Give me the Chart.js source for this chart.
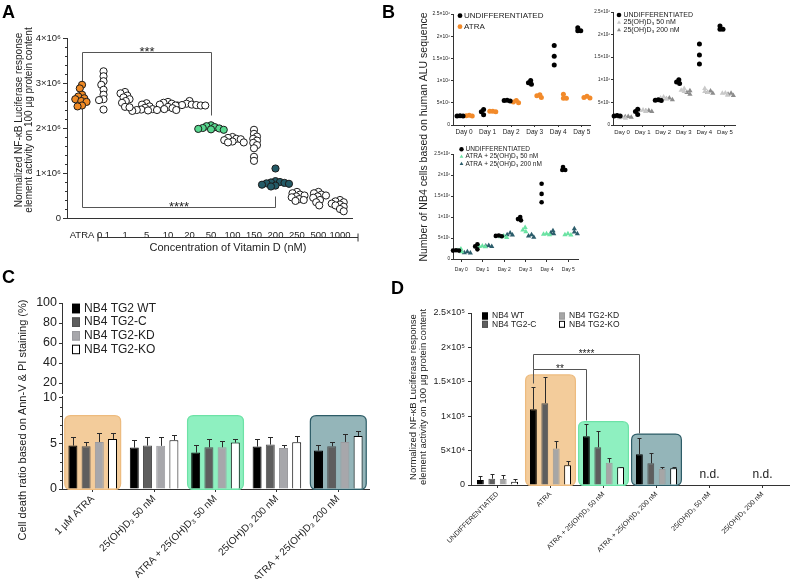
<!DOCTYPE html>
<html><head><meta charset="utf-8">
<script src="https://cdn.jsdelivr.net/npm/chart.js@4.4.1/dist/chart.umd.min.js"></script>
<style>
html,body{margin:0;padding:0;background:#fff;}
#wrap{position:relative;width:790px;height:580px;overflow:hidden;background:#fff;}
#wrap canvas{position:absolute;left:0;top:0;width:790px;height:580px;}
</style></head><body>
<div id="wrap">
<canvas id="cA" width="790" height="580"></canvas>
<canvas id="cB1" width="790" height="580"></canvas>
<canvas id="cB2" width="790" height="580"></canvas>
<canvas id="cB3" width="790" height="580"></canvas>
<canvas id="cC1" width="790" height="580"></canvas>
<canvas id="cC2" width="790" height="580"></canvas>
<canvas id="cD" width="790" height="580"></canvas>
</div>
<script>
// ================= DATA =================
// Panel A: NF-kB luciferase activity per condition (replicates)
const concLabels = ['ATRA','0.1','1','5','10','20','50','100','150','200','250','500','1000'];
const nfkbA = [
  [2.96e6,2.88e6,2.74e6,2.70e6,2.66e6,2.64e6,2.60e6,2.58e6,2.50e6,2.48e6],
  [3.26e6,3.15e6,3.04e6,2.96e6,2.85e6,2.74e6,2.64e6,2.62e6,2.41e6],
  [2.80e6,2.77e6,2.72e6,2.68e6,2.64e6,2.60e6,2.56e6,2.47e6,2.46e6],
  [2.55e6,2.52e6,2.48e6,2.45e6,2.42e6,2.41e6,2.40e6,2.39e6,2.38e6,2.40e6],
  [2.58e6,2.56e6,2.54e6,2.52e6,2.50e6,2.47e6,2.44e6,2.42e6,2.40e6],
  [2.60e6,2.54e6,2.52e6,2.51e6,2.50e6,2.50e6,2.49e6,2.50e6,2.51e6],
  [2.06e6,2.04e6,2.02e6,2.00e6,1.99e6,1.98e6,1.97e6,1.96e6],
  [1.80e6,1.78e6,1.76e6,1.75e6,1.73e6,1.70e6,1.68e6,1.68e6],
  [1.96e6,1.87e6,1.81e6,1.76e6,1.72e6,1.67e6,1.62e6,1.55e6,1.36e6,1.27e6],
  [1.10e6,0.82e6,0.80e6,0.79e6,0.78e6,0.77e6,0.76e6,0.74e6,0.72e6,0.70e6],
  [0.58e6,0.55e6,0.52e6,0.50e6,0.48e6,0.46e6,0.42e6,0.40e6,0.38e6],
  [0.58e6,0.55e6,0.52e6,0.50e6,0.48e6,0.45e6,0.40e6,0.35e6,0.28e6],
  [0.40e6,0.37e6,0.35e6,0.32e6,0.30e6,0.28e6,0.25e6,0.20e6,0.15e6]
];
const aTickVals = [0,1e6,2e6,3e6,4e6];
const aTickLabels = ['0','1×10⁶','2×10⁶','3×10⁶','4×10⁶'];

// Panel B: cell numbers per day (3 replicates)
const days = ['Day 0','Day 1','Day 2','Day 3','Day 4','Day 5'];
const undiffB  = [[0.20e6,0.20e6,0.21e6],[0.35e6,0.30e6,0.23e6],[0.56e6,0.54e6,0.55e6],[1.00e6,0.95e6,0.92e6],[1.79e6,1.55e6,1.35e6],[2.19e6,2.12e6,2.12e6]];
const atraB    = [[0.21e6,0.20e6,0.22e6],[0.31e6,0.30e6,0.31e6],[0.55e6,0.52e6,0.50e6],[0.68e6,0.62e6,0.66e6],[0.69e6,0.60e6,0.60e6],[0.65e6,0.62e6,0.61e6]];
const d50B     = [[0.15e6,0.16e6,0.17e6],[0.33e6,0.31e6,0.32e6],[0.62e6,0.58e6,0.60e6],[0.81e6,0.74e6,0.77e6],[0.81e6,0.74e6,0.72e6],[0.71e6,0.66e6,0.70e6]];
const d200B    = [[0.19e6,0.17e6,0.18e6],[0.32e6,0.30e6,0.31e6],[0.60e6,0.56e6,0.58e6],[0.76e6,0.72e6,0.68e6],[0.75e6,0.70e6,0.72e6],[0.68e6,0.65e6,0.70e6]];
const atra50B  = [[0.24e6,0.20e6,0.17e6],[0.31e6,0.29e6,0.30e6],[0.55e6,0.51e6,0.53e6],[0.75e6,0.69e6,0.65e6],[0.60e6,0.58e6,0.59e6],[0.60e6,0.57e6,0.58e6]];
const atra200B = [[0.17e6,0.15e6,0.14e6],[0.32e6,0.30e6,0.31e6],[0.62e6,0.58e6,0.57e6],[0.58e6,0.55e6,0.52e6],[0.67e6,0.62e6,0.60e6],[0.72e6,0.64e6,0.60e6]];
const bTickVals = [0,5e5,1e6,1.5e6,2e6,2.5e6];
const bTickLabels = ['0','5×10⁵','1×10⁶','1.5×10⁶','2×10⁶','2.5×10⁶'];

// Panel C: cell death ratio (%), mean and SD
const cCats = ['1 µM ATRA','25(OH)D₃ 50 nM','ATRA + 25(OH)D₃ 50 nM','25(OH)D₃ 200 nM','ATRA + 25(OH)D₃ 200 nM'];
const cWT   = [4.76,4.54,3.99,4.65,4.21];
const cWTsd = [0.92,0.84,0.81,0.88,0.66];
const cC    = [4.69,4.76,4.58,4.87,4.69];
const cCsd  = [0.51,0.99,0.95,0.88,0.47];
const cKD   = [5.16,4.73,4.58,4.50,5.16];
const cKDsd = [0.96,0.95,0.73,0.34,0.84];
const cKO   = [5.49,5.35,5.09,5.13,5.82];
const cKOsd = [0.70,0.62,0.40,0.73,0.59];
const cTopTicks = [20,40,60,80,100];
const cLowTicks = [0,5,10];

// Panel D: NF-kB luciferase activity, mean and SD (null = n.d.)
const dCats = ['UNDIFFERENTIATED','ATRA','ATRA + 25(OH)D₃ 50 nM','ATRA + 25(OH)D₃ 200 nM','25(OH)D₃ 50 nM','25(OH)D₃ 200 nM'];
const dWT   = [7300,110000,70900,44700,null,null];
const dWTsd = [5800,32000,17900,23300,null,null];
const dC    = [9200,119000,54900,31600,null,null];
const dCsd  = [6800,38000,23100,15400,null,null];
const dKD   = [8700,53000,32500,23300,null,null];
const dKDsd = [6300,11000,7300,2400,null,null];
const dKO   = [4900,28600,25700,24300,null,null];
const dKOsd = [3400,6400,1000,2400,null,null];
const dTickVals = [0,5e4,1e5,1.5e5,2e5,2.5e5];
const dTickLabels = ['0','5×10⁴','1×10⁵','1.5×10⁵','2×10⁵','2.5×10⁵'];

// ================= HELPERS =================
const FONT = "'Liberation Sans', Arial, Helvetica, sans-serif";
Chart.defaults.font.family = FONT;
Chart.defaults.color = '#222';
Chart.defaults.plugins.legend.display = false;
Chart.defaults.plugins.tooltip.enabled = false;
const W = 790, H = 580, AX = '#333';

function padFor(a, yw, xh) { return {left: a.l - yw, right: W - a.r, top: a.t, bottom: H - a.b - xh}; }
function fixW(w) { return s => { s.width = w; }; }
function fixH(h) { return s => { s.height = h; }; }
function setTicks(vals) { return s => { s.ticks = vals.map(v => ({value: v})); }; }
function labelFor(vals, labels) { return v => { const i = vals.indexOf(v); return i >= 0 ? labels[i] : ''; }; }
function baseOpts(pad) {
  return {responsive:false, maintainAspectRatio:false, animation:false, events:[], devicePixelRatio:1,
          layout:{padding:pad}, plugins:{legend:{display:false}, tooltip:{enabled:false}}};
}
function txt(c, s, x, y, size, o = {}) {
  c.save();
  c.font = (o.bold ? 'bold ' : '') + size + 'px ' + FONT;
  c.fillStyle = o.color || '#222';
  c.textAlign = o.align || 'center';
  c.textBaseline = o.baseline || 'middle';
  c.translate(x, y);
  if (o.rot) c.rotate(o.rot);
  c.fillText(s, 0, 0);
  c.restore();
}
function line(c, pts, color, w) {
  c.save(); c.strokeStyle = color || '#444'; c.lineWidth = w || 1;
  c.beginPath(); pts.forEach((p, i) => i ? c.lineTo(p[0], p[1]) : c.moveTo(p[0], p[1])); c.stroke(); c.restore();
}
function rrect(c, x, y, w, h, r, fill, stroke, lw) {
  c.save(); c.beginPath();
  c.moveTo(x + r, y); c.lineTo(x + w - r, y); c.quadraticCurveTo(x + w, y, x + w, y + r);
  c.lineTo(x + w, y + h - r); c.quadraticCurveTo(x + w, y + h, x + w - r, y + h);
  c.lineTo(x + r, y + h); c.quadraticCurveTo(x, y + h, x, y + h - r);
  c.lineTo(x, y + r); c.quadraticCurveTo(x, y, x + r, y); c.closePath();
  c.fillStyle = fill; c.fill();
  if (stroke) { c.strokeStyle = stroke; c.lineWidth = lw || 1; c.stroke(); }
  c.restore();
}
function marker(c, shape, x, y, r, color) {
  c.save(); c.fillStyle = color; c.beginPath();
  if (shape === 'triangle') { c.moveTo(x, y - r); c.lineTo(x + r * 0.866, y + r * 0.5); c.lineTo(x - r * 0.866, y + r * 0.5); c.closePath(); }
  else c.arc(x, y, r, 0, Math.PI * 2);
  c.fill(); c.restore();
}
// simple beeswarm: horizontal offsets so replicate markers do not fully overlap
function swarm(vals, cx, pxX, pxY, minD) {
  const placed = [], res = new Array(vals.length);
  const order = vals.map((_, i) => i).sort((a, b) => vals[b] - vals[a]);
  for (const i of order) {
    const y = vals[i] * pxY;
    let off = 0;
    for (let k = 0; k < 80; k++) {
      const s = placed.length % 2 ? -1 : 1;
      const cands = k === 0 ? [0] : [s * k * 0.75, -s * k * 0.75];
      let found = null;
      for (const cnd of cands) {
        if (placed.every(p => Math.hypot(p.x - cnd, p.y - y) >= minD)) { found = cnd; break; }
      }
      if (found !== null) { off = found; break; }
    }
    placed.push({x: off, y});
    res[i] = {x: cx + off / pxX, y: vals[i]};
  }
  return res;
}
function yAxis(min, max, tickVals, tickLabels, size, w, tl, pad) {
  return {min, max, afterBuildTicks: setTicks(tickVals),
    ticks: {callback: tickLabels ? labelFor(tickVals, tickLabels) : (v => String(v)), font: {size}, padding: pad, color: '#222'},
    grid: {drawOnChartArea: false, tickLength: tl, color: AX}, border: {display: true, color: AX, width: 1}, afterFit: fixW(w)};
}
function errPlugin(cap) {
  return {id: 'errbars', afterDatasetsDraw(ch) {
    const c = ch.ctx, ys = ch.scales.y;
    ch.data.datasets.forEach((ds, di) => {
      ch.getDatasetMeta(di).data.forEach((el, i) => {
        const v = ds.data[i], e = ds.errors ? ds.errors[i] : null;
        if (v == null || e == null) return;
        const x = Math.round(el.x) + 0.5, top = Math.round(ys.getPixelForValue(v + e)) + 0.5;
        line(c, [[x, el.y], [x, top]], '#2a2a2a');
        line(c, [[x - cap, top], [x + cap, top]], '#2a2a2a');
      });
    });
  }};
}
function boxPlugin(list, half, rad) {
  return {id: 'hbox', beforeDatasetsDraw(ch) {
    const xs = ch.scales.x, ys = ch.scales.y, c = ch.ctx;
    const cw = xs.getPixelForValue(1) - xs.getPixelForValue(0);
    list.forEach(b => {
      const cx = xs.getPixelForValue(b.cat);
      const x1 = cx - cw * half, x2 = cx + cw * half;
      const y1 = ys.getPixelForValue(b.top), y2 = ys.getPixelForValue(0) + 0.5;
      rrect(c, x1, y1, x2 - x1, y2 - y1, rad, b.fill, b.stroke, 1.2);
    });
  }};
}
const ORANGE = {fill: '#F3CC9B', stroke: '#EDBB7E'};
const GREEN  = {fill: '#8EF0C0', stroke: '#6DE2A6'};
const TEAL   = {fill: '#94B5B9', stroke: '#2D5C67'};

// ================= PANEL A =================
const A = {l: 67, r: 352, t: 38, b: 218};
const aXMin = -0.7, aXMax = 12.56;
const aPxX = (A.r - A.l) / (aXMax - aXMin), aPxY = (A.b - A.t) / 4e6;
const aFill = ['#F08A24','#fff','#fff','#fff','#fff','#fff','#58D88F','#fff','#fff','#235A66','#fff','#fff','#fff'];
const aBrackets = [
  {from: 0, to: 6, top: 3.68e6, left: 0.25e6, right: 2.28e6, label: '***'},
  {from: 0, to: 9, top: 0.25e6, left: 0.25e6, right: 0.5e6, label: '****', flat: true}
];
const aPlugin = {
  id: 'aExtra',
  beforeDatasetsDraw(ch) {
    const x = ch.scales.x, y = ch.scales.y, c = ch.ctx;
    const X = v => Math.round(x.getPixelForValue(v)) + 0.5, Y = v => Math.round(y.getPixelForValue(v)) + 0.5;
    aBrackets.forEach(b => {
      if (b.flat) line(c, [[X(b.from), Y(b.top)], [X(b.to), Y(b.top)], [X(b.to), Y(b.right)]], '#555');
      else line(c, [[X(b.from), Y(b.left)], [X(b.from), Y(b.top)], [X(b.to), Y(b.top)], [X(b.to), Y(b.right)]], '#555');
      txt(c, b.label, (X(b.from) + X(b.to)) / 2, Y(b.top) + 3, 13, {baseline: 'alphabetic'});
    });
  },
  afterDraw(ch) {
    const c = ch.ctx, x = ch.scales.x, y = ch.scales.y, ca = ch.chartArea;
    for (let k = 1; k < 20; k++) {
      if (k % 5 === 0) continue;
      const py = Math.round(y.getPixelForValue(k * 2e5)) + 0.5;
      line(c, [[ca.left - 2, py], [ca.left, py]], AX);
    }
    const by = Math.round(ca.bottom + 19) + 0.5;
    const bx1 = x.getPixelForValue(0.74), bx2 = x.getPixelForValue(12.84);
    line(c, [[bx1, by], [bx2, by]], '#333');
    line(c, [[bx1, by - 4], [bx1, by + 4]], '#333');
    line(c, [[bx2, by - 4], [bx2, by + 4]], '#333');
    txt(c, 'Concentration of Vitamin D (nM)', (bx1 + bx2) / 2, ca.bottom + 30, 11);
    txt(c, 'Normalized NF-κB Luciferase response', 19, 120, 10, {rot: -Math.PI / 2});
    txt(c, 'element activity on 100 µg protein content', 29, 120, 10, {rot: -Math.PI / 2});
    txt(c, 'A', 2, 18, 18, {bold: true, align: 'left', baseline: 'alphabetic', color: '#000'});
  }
};
new Chart(document.getElementById('cA'), {
  type: 'scatter',
  data: {datasets: concLabels.map((lab, ci) => ({
    label: lab, data: swarm(nfkbA[ci], ci, aPxX, aPxY, 4),
    pointRadius: 3.6, pointBorderWidth: 1, pointBorderColor: '#1b1b1b', pointBackgroundColor: aFill[ci], clip: false
  }))},
  options: Object.assign(baseOpts(padFor(A, 40, 40)), {
    scales: {
      x: {type: 'linear', min: aXMin, max: aXMax, afterBuildTicks: setTicks(concLabels.map((_, i) => i)),
          ticks: {callback: v => concLabels[v], autoSkip: false, maxRotation: 0, minRotation: 0, font: {size: 9.5}, padding: 4, color: '#222'},
          grid: {display: false}, border: {display: true, color: AX, width: 1}, afterFit: fixH(40)},
      y: yAxis(0, 4e6, aTickVals, aTickLabels, 9.5, 40, 4, 2)
    }
  }),
  plugins: [aPlugin]
});

// ================= PANEL B =================
function bChart(id, area, xMin, xMax, series, leg, fonts, extra) {
  const pxX = (area.r - area.l) / (xMax - xMin), pxY = (area.b - area.t) / 2.5e6;
  const legPlugin = {id: 'bleg', afterDraw(ch) {
    const c = ch.ctx;
    ch.data.datasets.forEach((ds, i) => {
      const yy = leg.y0 + i * leg.dy;
      marker(c, ds.pointStyle, leg.x, yy, leg.r, ds.pointBackgroundColor);
      txt(c, ds.label, leg.tx, yy, leg.size, {align: 'left'});
    });
  }};
  return new Chart(document.getElementById(id), {
    type: 'scatter',
    data: {datasets: series.map(s => ({
      label: s.label,
      data: days.flatMap((_, di) => swarm(s.vals[di], di + s.off, pxX, pxY, 3)),
      pointStyle: s.shape, pointRadius: s.r, pointBorderWidth: 0,
      pointBackgroundColor: s.color, pointBorderColor: s.color, clip: false
    }))},
    options: Object.assign(baseOpts(padFor(area, 22, 20)), {
      scales: {
        x: {type: 'linear', min: xMin, max: xMax, afterBuildTicks: setTicks(days.map((_, i) => i)),
            ticks: {callback: v => days[v], autoSkip: false, maxRotation: 0, minRotation: 0, font: {size: fonts.x}, padding: fonts.xp, color: '#222'},
            grid: {drawOnChartArea: false, tickLength: fonts.tl, color: AX}, border: {display: true, color: AX}, afterFit: fixH(20)},
        y: yAxis(0, 2.5e6, bTickVals, bTickLabels, fonts.y, 22, 2, 1)
      }
    }),
    plugins: extra ? [legPlugin, extra] : [legPlugin]
  });
}
const B1 = {l: 453, r: 590, t: 14, b: 125};
bChart('cB1', B1, -0.47, 5.35, [
  {label: 'UNDIFFERENTIATED', vals: undiffB, off: -0.17, color: '#000', shape: 'circle', r: 2.5},
  {label: 'ATRA', vals: atraB, off: 0.22, color: '#F28A2A', shape: 'circle', r: 2.5}
], {x: 460, tx: 464, y0: 15.7, dy: 11, r: 2.4, size: 8}, {x: 6.5, y: 5, xp: 1, tl: 2}, {
  id: 'bExtra', afterDraw(ch) {
    const c = ch.ctx;
    txt(c, 'B', 382, 18, 18, {bold: true, align: 'left', baseline: 'alphabetic', color: '#000'});
    txt(c, 'Number of NB4 cells based on human ALU sequence', 424, 137, 10.5, {rot: -Math.PI / 2});
  }
});
const B2 = {l: 613, r: 735, t: 12, b: 125};
bChart('cB2', B2, -0.44, 5.49, [
  {label: 'UNDIFFERENTIATED', vals: undiffB, off: -0.24, color: '#000', shape: 'circle', r: 2.5},
  {label: '25(OH)D₃ 50 nM', vals: d50B, off: 0.02, color: '#C9C9C9', shape: 'triangle', r: 3},
  {label: '25(OH)D₃ 200 nM', vals: d200B, off: 0.3, color: '#8C8C8C', shape: 'triangle', r: 3}
], {x: 619, tx: 623.5, y0: 15, dy: 7.5, r: 2.3, size: 7}, {x: 6, y: 4.5, xp: 2, tl: 2});
const B3 = {l: 453, r: 578, t: 154, b: 259};
bChart('cB3', B3, -0.39, 5.45, [
  {label: 'UNDIFFERENTIATED', vals: undiffB, off: -0.25, color: '#000', shape: 'circle', r: 2.3},
  {label: 'ATRA + 25(OH)D₃ 50 nM', vals: atra50B, off: -0.02, color: '#6BE3A3', shape: 'triangle', r: 3},
  {label: 'ATRA + 25(OH)D₃ 200 nM', vals: atra200B, off: 0.28, color: '#2C5D6B', shape: 'triangle', r: 3}
], {x: 461.5, tx: 465.5, y0: 149.3, dy: 7.35, r: 2.2, size: 6.5}, {x: 5, y: 4.5, xp: 5, tl: 3});

// ================= PANEL C =================
const C1 = {l: 62, r: 369, t: 303, b: 393};
new Chart(document.getElementById('cC1'), {
  type: 'bar',
  data: {labels: cCats, datasets: []},
  options: Object.assign(baseOpts(padFor(C1, 30, 0)), {
    scales: {x: {display: false}, y: yAxis(10, 100, cTopTicks, null, 12.5, 30, 3, 2)}
  })
});
const C2 = {l: 62, r: 369, t: 396, b: 489};
const cPlugin = {
  id: 'cExtra',
  afterDraw(ch) {
    const c = ch.ctx, y = ch.scales.y, ca = ch.chartArea;
    for (let k = 1; k < 10; k++) {
      if (k === 5) continue;
      const py = Math.round(y.getPixelForValue(k)) + 0.5;
      line(c, [[ca.left - 2, py], [ca.left, py]], AX);
    }
    ch.data.datasets.forEach((ds, i) => {
      const yy = 308.5 + i * 13.65;
      c.save(); c.fillStyle = ds.backgroundColor; c.fillRect(72, yy - 4.75, 8, 9.5);
      c.strokeStyle = ds.borderColor; c.lineWidth = 1; c.strokeRect(72.5, yy - 4.25, 7, 8.5); c.restore();
      txt(c, ds.label, 84, yy, 12, {align: 'left'});
    });
    txt(c, 'Cell death ratio based on Ann-V & PI staining (%)', 23, 420, 11, {rot: -Math.PI / 2});
    txt(c, 'C', 2, 283, 18, {bold: true, align: 'left', baseline: 'alphabetic', color: '#000'});
  }
};
new Chart(document.getElementById('cC2'), {
  type: 'bar',
  data: {labels: cCats, datasets: [
    {label: 'NB4 TG2 WT', data: cWT, errors: cWTsd, backgroundColor: '#000000', borderColor: '#000000', borderWidth: 1},
    {label: 'NB4 TG2-C', data: cC, errors: cCsd, backgroundColor: '#5E5E5E', borderColor: '#505050', borderWidth: 1},
    {label: 'NB4 TG2-KD', data: cKD, errors: cKDsd, backgroundColor: '#A7A7AB', borderColor: '#9A9A9E', borderWidth: 1},
    {label: 'NB4 TG2-KO', data: cKO, errors: cKOsd, backgroundColor: '#FFFFFF', borderColor: '#000000', borderWidth: 1}
  ]},
  options: Object.assign(baseOpts(padFor(C2, 30, 90)), {
    datasets: {bar: {barPercentage: 0.68, categoryPercentage: 0.86}},
    scales: {
      x: {ticks: {font: {size: 10}, minRotation: 45, maxRotation: 45, autoSkip: false, padding: 1, color: '#222'},
          grid: {drawOnChartArea: false, tickLength: 3, color: AX, offset: false}, border: {display: true, color: AX}, afterFit: fixH(90)},
      y: yAxis(0, 10.2, cLowTicks, null, 12.5, 30, 3, 2)
    }
  }),
  plugins: [boxPlugin([
    Object.assign({cat: 0, top: 8.05}, ORANGE),
    Object.assign({cat: 2, top: 8.05}, GREEN),
    Object.assign({cat: 4, top: 8.05}, TEAL)
  ], 0.455, 6), errPlugin(2.5), cPlugin]
});

// ================= PANEL D =================
const D = {l: 471, r: 789, t: 313, b: 485};
const dBrackets = [
  {from: 1, to: 2, top: 169000, left: 148000, right: 94500, label: '**'},
  {from: 1, to: 3, top: 190000, left: 169000, right: 75000, label: '****'}
];
const dLegPos = [[482, 316], [482, 324.3], [559, 316], [559, 324.3]];
const dPlugin = {
  id: 'dExtra',
  afterDatasetsDraw(ch) {
    const c = ch.ctx, x = ch.scales.x, y = ch.scales.y;
    const meta = ch.getDatasetMeta(0);
    const Y = v => Math.round(y.getPixelForValue(v)) + 0.5;
    dBrackets.forEach(b => {
      const x1 = Math.round(meta.data[b.from].x) + 0.5, x2 = Math.round(meta.data[b.to].x) + 0.5;
      line(c, [[x1, Y(b.left)], [x1, Y(b.top)], [x2, Y(b.top)], [x2, Y(b.right)]], '#555');
      txt(c, b.label, (x1 + x2) / 2, Y(b.top) + 2, 10, {baseline: 'alphabetic'});
    });
    ch.data.datasets[0].data.forEach((v, i) => {
      if (v == null) txt(c, 'n.d.', x.getPixelForValue(i), y.getPixelForValue(15000), 12);
    });
  },
  afterDraw(ch) {
    const c = ch.ctx;
    ch.data.datasets.forEach((ds, i) => {
      const [bx, by] = dLegPos[i];
      c.save(); c.fillStyle = ds.backgroundColor; c.fillRect(bx, by - 3.5, 6, 7);
      c.strokeStyle = ds.borderColor; c.lineWidth = 1; c.strokeRect(bx + 0.5, by - 3, 5, 6); c.restore();
      txt(c, ds.label, bx + 10, by, 8.5, {align: 'left'});
    });
    txt(c, 'Normalized NF-κB Luciferase response', 413, 397, 9.5, {rot: -Math.PI / 2});
    txt(c, 'element activity on 100 µg protein content', 423.5, 397, 9.5, {rot: -Math.PI / 2});
    txt(c, 'D', 391, 294, 18, {bold: true, align: 'left', baseline: 'alphabetic', color: '#000'});
  }
};
new Chart(document.getElementById('cD'), {
  type: 'bar',
  data: {labels: dCats, datasets: [
    {label: 'NB4 WT', data: dWT, errors: dWTsd, backgroundColor: '#000000', borderColor: '#000000', borderWidth: 1},
    {label: 'NB4 TG2-C', data: dC, errors: dCsd, backgroundColor: '#5E5E5E', borderColor: '#505050', borderWidth: 1},
    {label: 'NB4 TG2-KD', data: dKD, errors: dKDsd, backgroundColor: '#A6A6A6', borderColor: '#9A9A9A', borderWidth: 1},
    {label: 'NB4 TG2-KO', data: dKO, errors: dKOsd, backgroundColor: '#FFFFFF', borderColor: '#000000', borderWidth: 1}
  ]},
  options: Object.assign(baseOpts(padFor(D, 40, 94)), {
    datasets: {bar: {barPercentage: 0.6, categoryPercentage: 0.86}},
    scales: {
      x: {ticks: {font: {size: 7}, minRotation: 45, maxRotation: 45, autoSkip: false, padding: 2, color: '#222'},
          grid: {drawOnChartArea: false, tickLength: 3, color: AX, offset: false}, border: {display: true, color: AX}, afterFit: fixH(94)},
      y: yAxis(0, 2.5e5, dTickVals, dTickLabels, 9, 40, 3, 3)
    }
  }),
  plugins: [boxPlugin([
    Object.assign({cat: 1, top: 160000}, ORANGE),
    Object.assign({cat: 2, top: 92000}, GREEN),
    Object.assign({cat: 3, top: 74000}, TEAL)
  ], 0.47, 6), errPlugin(2), dPlugin]
});
</script>
</body></html>
